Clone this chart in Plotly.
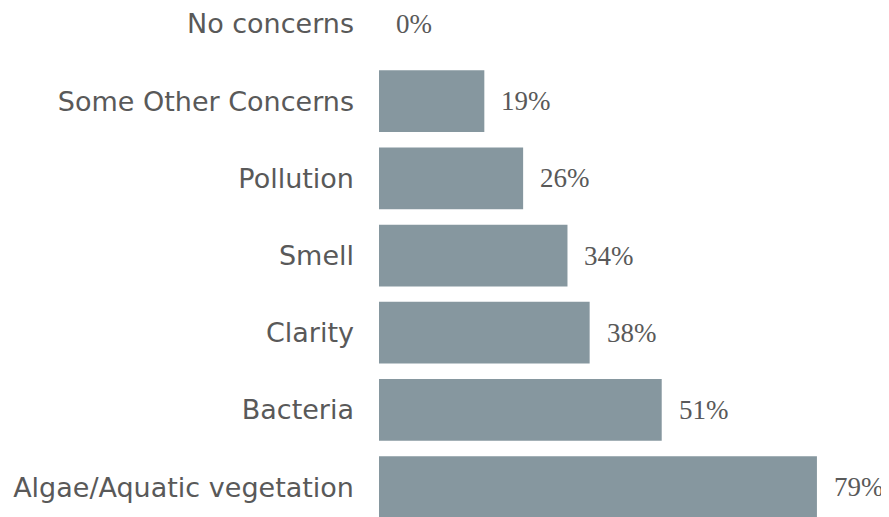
import plotly.graph_objects as go

categories = ["Algae/Aquatic vegetation", "Bacteria", "Clarity", "Smell",
              "Pollution", "Some Other Concerns", "No concerns"]
values = [79, 51, 38, 34, 26, 19, 0]
value_labels = [f"{v}%" for v in values]

bar_color = "#86979f"
text_color = "#595959"

fig = go.Figure()
fig.add_trace(go.Bar(
    x=values, y=categories, orientation="h",
    marker=dict(color=bar_color, line=dict(width=0)),
    width=0.8, hoverinfo="skip",
))
for c, v, t in zip(categories, values, value_labels):
    fig.add_annotation(x=v, y=c, text=t, showarrow=False, xanchor="left",
                       xshift=15, font=dict(family="Liberation Serif", size=27, color=text_color))

fig.update_layout(
    width=881, height=509,
    margin=dict(l=371, r=0, t=0, b=0),
    paper_bgcolor="white", plot_bgcolor="white",
    showlegend=False,
    xaxis=dict(range=[0, 92], visible=False, fixedrange=True),
    yaxis=dict(range=[-0.387, 6.181], categoryorder="array", categoryarray=categories,
               showgrid=False, zeroline=False, showline=False, ticks="",
               ticklabelstandoff=24,
               tickfont=dict(family="DejaVu Sans", size=27, color=text_color)),
)
fig.write_html("out.html")
